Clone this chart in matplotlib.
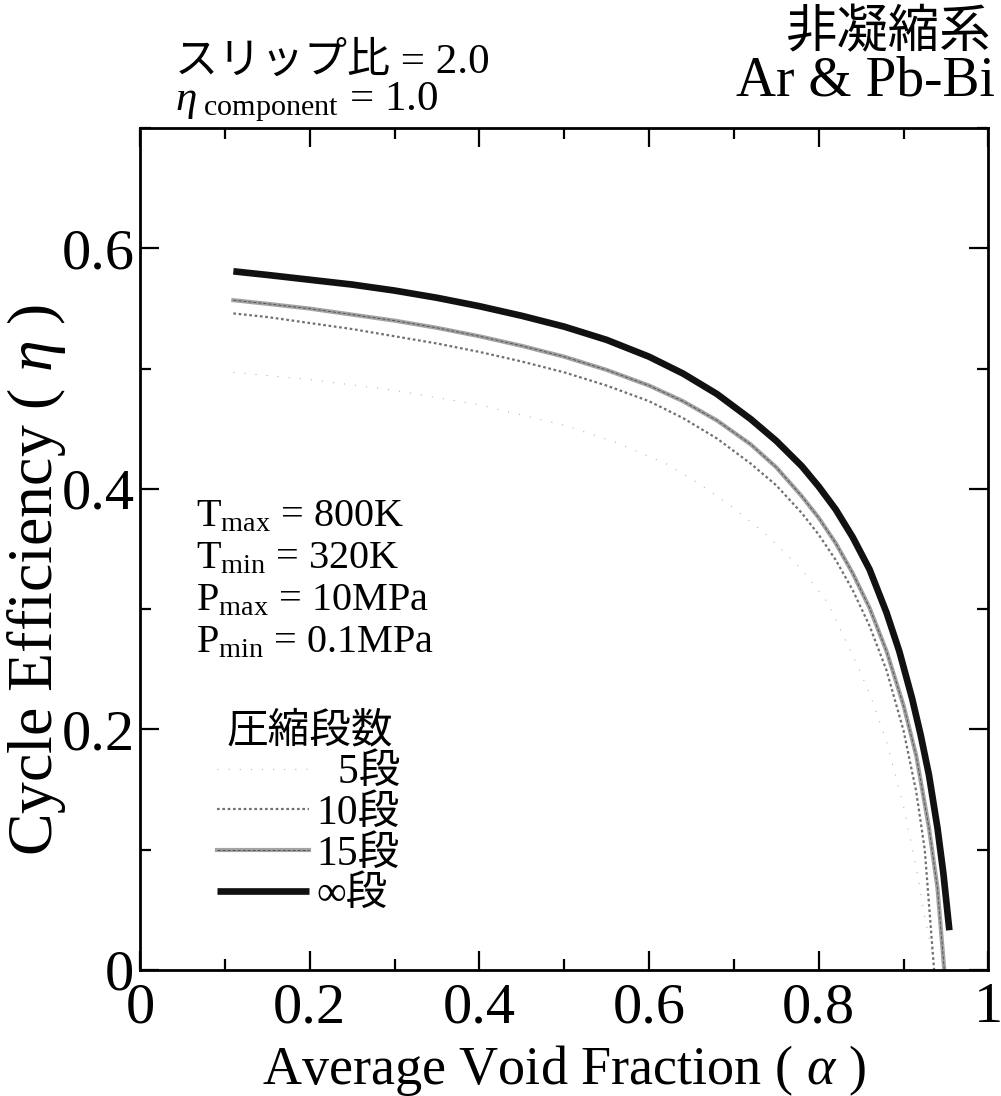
import matplotlib
matplotlib.use("Agg")
import matplotlib.pyplot as plt
from matplotlib.ticker import MultipleLocator

plt.rcParams["font.family"] = ["Liberation Serif", "Noto Sans CJK JP"]
plt.rcParams["mathtext.fontset"] = "custom"
plt.rcParams["mathtext.rm"] = "Liberation Serif"
plt.rcParams["mathtext.it"] = "Liberation Serif:italic"
plt.rcParams["mathtext.bf"] = "Liberation Serif:bold"

# Cycle efficiency vs. average void fraction for each number of compression stages
alpha_inf = [0.11, 0.15, 0.2, 0.25, 0.3, 0.35, 0.4, 0.45, 0.5, 0.55, 0.6, 0.64, 0.68,
             0.72, 0.75, 0.78, 0.8, 0.82, 0.84, 0.86, 0.88, 0.895, 0.91, 0.92, 0.93,
             0.94, 0.947, 0.954]
eta_inf = [0.581, 0.578, 0.574, 0.570, 0.565, 0.559, 0.552, 0.544, 0.535, 0.524, 0.510,
           0.496, 0.479, 0.458, 0.440, 0.419, 0.402, 0.383, 0.360, 0.333, 0.297, 0.265,
           0.226, 0.196, 0.162, 0.118, 0.080, 0.033]

alpha_15 = [0.11, 0.15, 0.2, 0.25, 0.3, 0.35, 0.4, 0.45, 0.5, 0.55, 0.6, 0.64, 0.68,
            0.72, 0.75, 0.78, 0.8, 0.82, 0.84, 0.86, 0.88, 0.9, 0.915, 0.93, 0.94, 0.948]
eta_15 = [0.557, 0.554, 0.550, 0.545, 0.540, 0.534, 0.527, 0.519, 0.510, 0.499, 0.486,
          0.473, 0.457, 0.437, 0.418, 0.394, 0.376, 0.355, 0.330, 0.301, 0.265, 0.220,
          0.178, 0.118, 0.068, 0.0]

alpha_10 = [0.11, 0.15, 0.2, 0.25, 0.3, 0.35, 0.4, 0.45, 0.5, 0.55, 0.6, 0.64, 0.68,
            0.72, 0.75, 0.78, 0.8, 0.82, 0.84, 0.86, 0.88, 0.9, 0.915, 0.925, 0.936]
eta_10 = [0.546, 0.543, 0.538, 0.533, 0.527, 0.521, 0.514, 0.506, 0.497, 0.486, 0.473,
          0.459, 0.442, 0.421, 0.403, 0.380, 0.362, 0.341, 0.316, 0.286, 0.249, 0.199,
          0.148, 0.100, 0.0]

alpha_5 = [0.11, 0.2, 0.3, 0.4, 0.5, 0.56, 0.62, 0.66, 0.7, 0.74, 0.78, 0.81, 0.84,
           0.86, 0.88, 0.9, 0.915, 0.925, 0.935]
eta_5 = [0.497, 0.491, 0.482, 0.470, 0.453, 0.439, 0.421, 0.404, 0.384, 0.361, 0.333,
         0.306, 0.262, 0.230, 0.190, 0.136, 0.085, 0.044, 0.010]

stage_labels = ["\u20075段", "10段", "15段", "∞段"]
legend_title = "圧縮段数"
x_ticks = [0, 0.2, 0.4, 0.6, 0.8, 1.0]
x_ticklabels = ["0", "0.2", "0.4", "0.6", "0.8", "1"]
y_ticks = [0, 0.2, 0.4, 0.6]
y_ticklabels = ["0", "0.2", "0.4", "0.6"]

fig = plt.figure(figsize=(10.01, 10.96), dpi=100)
ax = fig.add_axes([0.1399, 0.115, 0.8475, 0.768])

l5, = ax.plot(alpha_5, eta_5, color="#b4b4b4", lw=0.8, linestyle=(0, (1, 9)))
l10, = ax.plot(alpha_10, eta_10, color="#707070", lw=1.6, linestyle=(0, (1.2, 1.2)))
l15, = ax.plot(alpha_15, eta_15, color="#a3a3a3", lw=3.0)
l15b, = ax.plot(alpha_15, eta_15, color="#4a4a4a", lw=0.6, linestyle=(0, (4, 2)))
linf, = ax.plot(alpha_inf, eta_inf, color="#111111", lw=4.8, solid_capstyle="butt")

ax.set_xlim(0, 1)
ax.set_ylim(0, 0.7)
ax.set_xticks(x_ticks)
ax.set_xticklabels(x_ticklabels, fontsize=42)
ax.set_yticks(y_ticks)
ax.set_yticklabels(y_ticklabels, fontsize=42)
ax.xaxis.set_minor_locator(MultipleLocator(0.1))
ax.yaxis.set_minor_locator(MultipleLocator(0.1))
ax.tick_params(which="both", direction="in", top=True, right=True, width=1.6)
ax.tick_params(which="major", length=14)
ax.tick_params(axis="x", which="major", pad=9)
ax.tick_params(axis="y", which="major", pad=4)
ax.tick_params(which="minor", length=8)
for s in ax.spines.values():
    s.set_linewidth(2.0)

ax.set_xlabel(r"Average Void Fraction ( $\alpha$ )", fontsize=39, labelpad=6)
ax.set_ylabel(r"Cycle Efficiency ( $\eta$ )", fontsize=46, va="center")
ax.yaxis.set_label_coords(-0.122, 0.463)

# Operating conditions
cond = [r"T$_{\rm max}$ = 800K", r"T$_{\rm min}$ = 320K",
        r"P$_{\rm max}$ = 10MPa", r"P$_{\rm min}$ = 0.1MPa"]
for i, c in enumerate(cond):
    ax.text(0.066, 0.527 - i * 0.05, c, transform=ax.transAxes, fontsize=29,
            va="baseline", ha="left")

leg = ax.legend([l5, l10, (l15, l15b), linf], stage_labels, title=legend_title,
                loc="upper left", bbox_to_anchor=(0.066, 0.33), frameon=False,
                fontsize=30, title_fontsize=30, handlelength=2.2, handletextpad=0.2,
                labelspacing=0.05, borderpad=0, alignment="left")
leg.get_title().set_position((10, 0))

# Header annotations
fig.text(0.175, 0.943, "スリップ比 = 2.0", fontsize=31, ha="left", va="center")
fig.text(0.175, 0.907, r"$\eta_{\rm\ component}$ = 1.0", fontsize=31, ha="left",
         va="center")
fig.text(0.99, 0.969, "非凝縮系", fontsize=37, ha="right", va="center")
fig.text(0.994, 0.926, "Ar & Pb-Bi", fontsize=40, ha="right", va="center")

fig.savefig("out.png", dpi=100)
